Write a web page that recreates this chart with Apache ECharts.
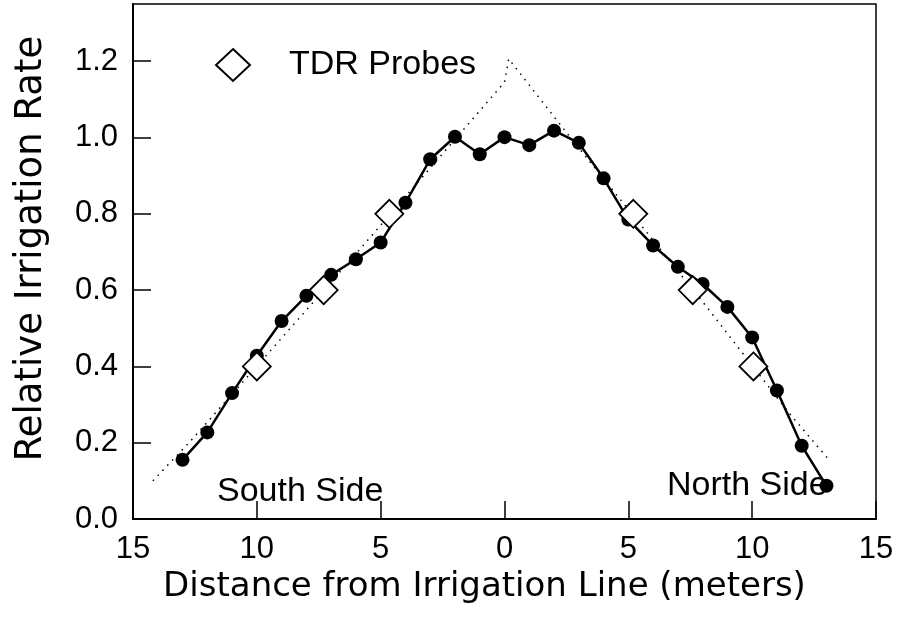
<!DOCTYPE html>
<html>
<head>
<meta charset="utf-8">
<script src="https://cdn.jsdelivr.net/npm/echarts@6/dist/echarts.min.js"></script>
<style>
  html, body { margin: 0; padding: 0; background: #fff; }
  #chart { width: 903px; height: 621px; }
</style>
</head>
<body>
<div id="chart"></div>
<script>
// measured relative irrigation rate, one point per metre
var distX = [-13, -12, -11, -10, -9, -8, -7, -6, -5, -4, -3, -2, -1, 0, 1, 2, 3, 4, 5, 6, 7, 8, 9, 10, 11, 12, 13];
var rate = [0.155, 0.227, 0.330, 0.428, 0.519, 0.585, 0.640, 0.681, 0.725, 0.829, 0.943, 1.002, 0.956, 1.001, 0.980, 1.018, 0.986, 0.893, 0.785, 0.717, 0.661, 0.616, 0.556, 0.476, 0.337, 0.192, 0.087];

// TDR probe positions
var probeX = [-10.0, -7.3, -4.65, 5.2, 7.6, 10.05];
var probeY = [0.40, 0.60, 0.80, 0.80, 0.60, 0.40];

// dotted reference line
var modelX = [-14.2, -12.75, -9.3, -5.8, -1.6, 0.0, 0.17, 2.6, 8.2, 11.5, 13.05];
var modelY = [0.10, 0.199, 0.452, 0.71, 1.025, 1.145, 1.206, 1.005, 0.553, 0.277, 0.159];

var xTicks = [-15, -10, -5, 0, 5, 10, 15];
var yTicks = [0, 0.2, 0.4, 0.6, 0.8, 1.0, 1.2];

function pairs(a, b) {
    var out = [];
    for (var i = 0; i < a.length; i++) out.push([a[i], b[i]]);
    return out;
}

var font = 'Liberation Sans, Arial, Helvetica, sans-serif';
var titleFont = 'DejaVu Sans, Liberation Sans, sans-serif';

var option = {
    animation: false,
    backgroundColor: '#fff',
    grid: {
        left: 133, right: 27, top: 4, bottom: 102,
        show: true,
        borderColor: '#000',
        borderWidth: 1.5
    },
    legend: {
        data: ['TDR Probes'],
        left: 210,
        top: 43,
        itemWidth: 34,
        itemHeight: 32,
        textStyle: { fontFamily: font, fontSize: 34, color: '#000', padding: [0, 0, 0, 34] }
    },
    xAxis: {
        type: 'value',
        min: -15, max: 15, interval: 5,
        name: 'Distance from Irrigation Line (meters)',
        nameLocation: 'middle',
        nameGap: 44,
        nameTextStyle: { fontFamily: titleFont, fontSize: 34, color: '#000', padding: [0, 40, 0, 0] },
        axisLine: { onZero: false, lineStyle: { color: '#000', width: 2 } },
        axisTick: { inside: true, length: 18, lineStyle: { color: '#000', width: 1.5 } },
        axisLabel: {
            margin: 15,
            fontFamily: font, fontSize: 31, color: '#000',
            formatter: function (v) { return xTicks.indexOf(v) >= 0 ? String(Math.abs(v)) : ''; }
        },
        splitLine: { show: false }
    },
    yAxis: {
        type: 'value',
        min: 0, max: 1.35, interval: 0.2,
        name: 'Relative Irrigation Rate',
        nameLocation: 'middle',
        nameGap: 83,
        nameTextStyle: { fontFamily: titleFont, fontSize: 37, color: '#000', padding: [0, 0, 0, 26] },
        axisLine: { onZero: false, lineStyle: { color: '#000', width: 2 } },
        axisTick: { inside: true, length: 18, lineStyle: { color: '#000', width: 1.5 } },
        axisLabel: {
            margin: 15,
            showMaxLabel: false,
            fontFamily: font, fontSize: 31, color: '#000',
            formatter: function (v) {
                for (var i = 0; i < yTicks.length; i++) {
                    if (Math.abs(yTicks[i] - v) < 1e-6) return v.toFixed(1);
                }
                return '';
            }
        },
        splitLine: { show: false }
    },
    graphic: [
        { type: 'text', left: 217, top: 475, style: { text: 'South Side', fontFamily: font, fontSize: 34, fill: '#000' } },
        { type: 'text', left: 667, top: 469, style: { text: 'North Side', fontFamily: font, fontSize: 34, fill: '#000' } }
    ],
    series: [
        {
            name: 'model',
            type: 'line',
            data: pairs(modelX, modelY),
            showSymbol: false,
            symbol: 'none',
            lineStyle: { color: '#000', width: 1.5, type: [1.5, 5.5] },
            z: 1
        },
        {
            name: 'measured',
            type: 'line',
            data: pairs(distX, rate),
            symbol: 'circle',
            symbolSize: 14,
            itemStyle: { color: '#000' },
            lineStyle: { color: '#000', width: 2.5 },
            z: 3
        },
        {
            name: 'TDR Probes',
            type: 'scatter',
            data: pairs(probeX, probeY),
            symbol: 'diamond',
            symbolSize: 28,
            itemStyle: { color: '#fff', borderColor: '#000', borderWidth: 1.8, opacity: 1 },
            z: 5
        }
    ]
};

var chart = echarts.init(document.getElementById('chart'));
chart.setOption(option);
window.onresize = function () {
    chart.resize();
};
</script>
</body>
</html>
